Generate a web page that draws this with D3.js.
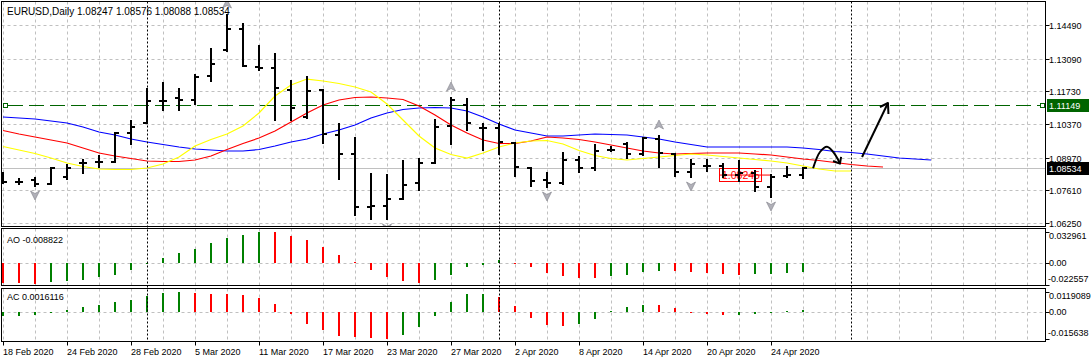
<!DOCTYPE html>
<html>
<head>
<meta charset="utf-8">
<script src="https://cdn.jsdelivr.net/npm/d3@7"></script>
<style>
body { margin: 0; background: #fff; }
text { font-family: "Liberation Sans", Arial, sans-serif; }
</style>
</head>
<body>
<div id="chart"></div>
<script>
// data
var symbol = 'EURUSD,Daily';
var dates = ['2020-02-18','2020-02-19','2020-02-20','2020-02-21','2020-02-24','2020-02-25','2020-02-26','2020-02-27','2020-02-28',
  '2020-03-02','2020-03-03','2020-03-04','2020-03-05','2020-03-06','2020-03-09','2020-03-10','2020-03-11','2020-03-12','2020-03-13',
  '2020-03-16','2020-03-17','2020-03-18','2020-03-19','2020-03-20','2020-03-23','2020-03-24','2020-03-25','2020-03-26','2020-03-27',
  '2020-03-30','2020-03-31','2020-04-01','2020-04-02','2020-04-03','2020-04-06','2020-04-07','2020-04-08','2020-04-09','2020-04-10',
  '2020-04-13','2020-04-14','2020-04-15','2020-04-16','2020-04-17','2020-04-20','2020-04-21','2020-04-22','2020-04-23','2020-04-24',
  '2020-04-27','2020-04-28'];
var open  = [1.08039,1.07956,1.08039,1.07872,1.08164,1.08740,1.08788,1.08788,1.09994,1.10410,1.11325,1.11450,1.11367,1.12365,1.13447,1.14320,1.12739,1.12698,1.11783,1.10660,1.11783,1.09911,1.09120,1.06916,1.06957,1.07248,1.07914,1.08746,1.10285,1.11159,1.10202,1.10202,1.09578,1.08538,1.08039,1.07914,1.08871,1.08538,1.09287,1.09536,1.09120,1.09744,1.09120,1.08372,1.08621,1.08621,1.08247,1.08330,1.07748,1.08220,1.08247];
var high  = [1.08372,1.08122,1.08164,1.08580,1.08704,1.08910,1.09079,1.10036,1.10535,1.11866,1.12116,1.11866,1.12448,1.13530,1.14944,1.14570,1.13655,1.13320,1.12199,1.12365,1.11824,1.10410,1.09828,1.08330,1.08288,1.08871,1.08954,1.10576,1.11492,1.11450,1.10410,1.10410,1.09620,1.08580,1.08372,1.09204,1.09037,1.09536,1.09453,1.09620,1.09828,1.09911,1.09162,1.08912,1.08912,1.08746,1.08871,1.08455,1.08288,1.08621,1.08576];
var low   = [1.07872,1.07831,1.07748,1.07831,1.08039,1.08288,1.08538,1.08746,1.09495,1.10368,1.10909,1.10909,1.11159,1.12116,1.13364,1.12739,1.12573,1.10493,1.10493,1.10576,1.09536,1.08039,1.06541,1.06375,1.06375,1.07207,1.07581,1.08704,1.09495,1.10077,1.09245,1.09079,1.08164,1.07748,1.07706,1.07831,1.08330,1.08413,1.09204,1.08912,1.09037,1.08538,1.08164,1.08122,1.08372,1.08122,1.07956,1.07540,1.07290,1.08122,1.08088];
var close = [1.07956,1.07960,1.07872,1.08538,1.08538,1.08760,1.08790,1.09994,1.10244,1.11325,1.11310,1.11367,1.12324,1.12864,1.14320,1.12781,1.12698,1.11866,1.11034,1.11741,1.09952,1.09120,1.06916,1.06957,1.07248,1.07831,1.08746,1.10244,1.11367,1.10410,1.10202,1.09620,1.08580,1.07997,1.07914,1.08871,1.08538,1.09245,1.09287,1.09120,1.09786,1.09162,1.08372,1.08704,1.08621,1.08247,1.08330,1.07748,1.08164,1.08247,1.08534];

// alligator lines (blue jaw, red teeth, yellow lips), values per bar incl. shifted future bars
var jaw = [1.10660,1.10618,1.10577,1.10493,1.10410,1.10244,1.10036,1.09911,1.09745,1.09620,1.09516,1.09412,1.09328,1.09287,1.09245,1.09245,1.09308,1.09453,1.09620,1.09745,1.09952,1.10119,1.10327,1.10618,1.10826,1.10972,1.11034,1.11055,1.11034,1.10909,1.10660,1.10368,1.10119,1.09994,1.09869,1.09869,1.09911,1.09952,1.09932,1.09911,1.09828,1.09745,1.09620,1.09516,1.09412,1.09412,1.09412,1.09412,1.09412,1.09412,1.09370,1.09308,1.09224,1.09183,1.09120,1.09037,1.08954,1.08912,1.08871];
var teeth = [1.10098,1.09952,1.09828,1.09703,1.09578,1.09370,1.09162,1.09037,1.08933,1.08829,1.08808,1.08808,1.08871,1.09037,1.09308,1.09557,1.09786,1.10077,1.10452,1.10826,1.11159,1.11367,1.11471,1.11492,1.11450,1.11388,1.11117,1.10743,1.10327,1.09994,1.09703,1.09557,1.09557,1.09661,1.09828,1.09786,1.09724,1.09620,1.09495,1.09370,1.09245,1.09162,1.09120,1.09141,1.09162,1.09162,1.09162,1.09120,1.09079,1.08996,1.08912,1.08850,1.08767,1.08684,1.08621,1.08580];
var lips  = [1.09432,1.09287,1.09141,1.08954,1.08746,1.08600,1.08496,1.08476,1.08476,1.08538,1.08704,1.08996,1.09453,1.09724,1.09952,1.10285,1.10826,1.11533,1.11991,1.12240,1.12157,1.12053,1.11908,1.11700,1.11200,1.10535,1.09869,1.09370,1.09100,1.08954,1.09162,1.09412,1.09578,1.09661,1.09682,1.09536,1.09266,1.09058,1.08933,1.08871,1.08933,1.08996,1.09058,1.09120,1.09079,1.09016,1.08954,1.08892,1.08829,1.08746,1.08621,1.08496,1.08413,1.08413];

var ao = [-0.0202,-0.0206,-0.0213,-0.0196,-0.0185,-0.0175,-0.0144,-0.0117,-0.0075,-0.0012,0.0058,0.0110,0.0151,0.0213,0.0264,0.0295,0.032961,0.0325,0.0285,0.0237,0.0172,0.0089,0.0017,-0.0065,-0.0144,-0.0185,-0.0209,-0.0175,-0.0117,-0.0041,-0.0014,0.0031,-0.0007,-0.0041,-0.0106,-0.0134,-0.0151,-0.0158,-0.0134,-0.0117,-0.0093,-0.0082,-0.0085,-0.0093,-0.0106,-0.0113,-0.0117,-0.0115,-0.0112,-0.0102,-0.008822];
var ac = [-0.0021,-0.0019,-0.0015,-0.0004,0.0013,0.0031,0.0042,0.0060,0.0071,0.0094,0.0111,0.0119089,0.0111,0.0110,0.0109,0.0100,0.0083,0.0048,-0.0008,-0.0067,-0.0102,-0.0136,-0.0146,-0.0148,-0.015638,-0.0134,-0.0088,-0.0019,0.0060,0.0106,0.0107,0.0090,0.0036,-0.0031,-0.0077,-0.0083,-0.0069,-0.0042,0.0008,0.0031,0.0042,0.0041,0.0027,-0.0003,-0.0008,-0.0015,-0.0014,-0.0008,-0.0002,0.0010,0.0016116];

var priceTicks = [1.14490, 1.13090, 1.11730, 1.10370, 1.08970, 1.07610, 1.06250];
var aoTicks = [0.032961, 0, -0.022557];
var acTicks = [0.0119089, 0, -0.015638];
var fractalUp = [14, 28, 41];
var fractalDown = [2, 24, 34, 43, 48];
var monthStarts = [9, 31, 53];
var hLinePrice = 1.11149;
var bidPrice = 1.08534;
var trendPrice = 1.08245;
var trendBars = [44.75, 47.94];
// hand drawn arrows, [bar, price]
var curveArrow = [[50.63,1.08526],[51.06,1.09204],[51.5,1.09424],[51.94,1.09162],[52.31,1.08734]];
var curveHead = [[51.88,1.08830],[52.31,1.08720],[52.38,1.09000]];
var straightArrow = [[53.69,1.08996],[55.31,1.11242]];
var straightHead = [[54.81,1.11076],[55.31,1.11242],[55.34,1.10785]];

// layout
var W = 1091, H = 362;
var left = 1.5, right = 1045.5;
var mainTop = 1.5, mainBot = 226.5;
var aoTop = 228.5, aoBot = 285.5;
var acTop = 288.5, acBot = 341.5;

var x = d3.scaleLinear().domain([0, 1]).range([3, 19]);
var y = d3.scaleLinear().domain([1.06125, 1.15445]).range([226, 2]);
var yAO = d3.scaleLinear().domain([-0.022557, 0.032961]).range([285, 231.5]);
var yAC = d3.scaleLinear().domain([-0.015638, 0.0119089]).range([339, 292]);
var fmt5 = d3.format('.5f');
var parse = d3.timeParse('%Y-%m-%d');
var fmtDate = d3.timeFormat('%-d %b %Y');

var svg = d3.select('#chart').append('svg')
    .attr('width', W)
    .attr('height', H);

svg.append('rect').attr('width', W).attr('height', H).attr('fill', '#fff');

var defs = svg.append('defs');
function clip(id, y0, y1) {
    defs.append('clipPath').attr('id', id)
        .append('rect').attr('x', left).attr('y', y0).attr('width', right - left).attr('height', y1 - y0);
}
clip('cMain', mainTop, mainBot);
clip('cAO', aoTop, aoBot);
clip('cAC', acTop, acBot);

var gMain = svg.append('g').attr('clip-path', 'url(#cMain)');
var gAO = svg.append('g').attr('clip-path', 'url(#cAO)');
var gAC = svg.append('g').attr('clip-path', 'url(#cAC)');

//    grid
var gridX = d3.range(0, 66, 2);
[[gMain, mainTop, mainBot], [gAO, aoTop, aoBot], [gAC, acTop, acBot]].forEach(function(p) {
    p[0].selectAll('.vgrid').data(gridX).enter().append('line')
        .attr('x1', function(d) { return x(d) + 0.5; })
        .attr('x2', function(d) { return x(d) + 0.5; })
        .attr('y1', p[1]).attr('y2', p[2])
        .attr('stroke', '#c0c0c0')
        .attr('stroke-dasharray', '3,3');
});
gMain.selectAll('.hgrid').data(priceTicks).enter().append('line')
    .attr('x1', left).attr('x2', right)
    .attr('y1', function(d) { return Math.round(y(d)) + 0.5; })
    .attr('y2', function(d) { return Math.round(y(d)) + 0.5; })
    .attr('stroke', '#c0c0c0')
    .attr('stroke-dasharray', '3,3');
gAO.append('line').attr('x1', left).attr('x2', right)
    .attr('y1', Math.round(yAO(0)) + 0.5).attr('y2', Math.round(yAO(0)) + 0.5)
    .attr('stroke', '#c0c0c0').attr('stroke-dasharray', '3,3');
gAC.append('line').attr('x1', left).attr('x2', right)
    .attr('y1', Math.round(yAC(0)) + 0.5).attr('y2', Math.round(yAC(0)) + 0.5)
    .attr('stroke', '#c0c0c0').attr('stroke-dasharray', '3,3');

//    period separators
svg.selectAll('.sep').data(monthStarts).enter().append('line')
    .attr('x1', function(d) { return x(d) + 0.5; })
    .attr('x2', function(d) { return x(d) + 0.5; })
    .attr('y1', mainTop).attr('y2', acBot)
    .attr('stroke', '#000')
    .attr('stroke-dasharray', '2,2');

//    bid line and horizontal line
gMain.append('line')
    .attr('x1', left).attr('x2', right)
    .attr('y1', Math.round(y(bidPrice)) + 0.5).attr('y2', Math.round(y(bidPrice)) + 0.5)
    .attr('stroke', '#c0c0c0');
var hy = Math.round(y(hLinePrice)) + 0.5;
gMain.append('line')
    .attr('x1', 8).attr('x2', 1040)
    .attr('y1', hy).attr('y2', hy)
    .attr('stroke', '#006400')
    .attr('stroke-dasharray', '15,6');
[5.5, 1042.5].forEach(function(cx) {
    gMain.append('rect')
        .attr('x', cx - 2).attr('y', hy - 2)
        .attr('width', 4).attr('height', 4)
        .attr('fill', '#fff').attr('stroke', '#006400');
});

//    alligator
var line = d3.line()
    .x(function(d, i) { return x(i); })
    .y(function(d) { return y(d); });
[[jaw, '#0000ff'], [teeth, '#ff0000'], [lips, '#ffff00']].forEach(function(s) {
    gMain.append('path')
        .attr('d', line(s[0]))
        .attr('fill', 'none')
        .attr('stroke', s[1])
        .attr('stroke-width', 1.2);
});

//    trend line with price label
var ty = y(trendPrice);
gMain.append('line')
    .attr('x1', x(trendBars[0])).attr('x2', x(trendBars[1]))
    .attr('y1', ty).attr('y2', ty)
    .attr('stroke', '#ff0000');
gMain.append('rect')
    .attr('x', x(trendBars[0]) + 0.5).attr('y', Math.round(ty) - 6.5)
    .attr('width', 42).attr('height', 13)
    .attr('fill', 'none').attr('stroke', '#ff0000');
gMain.append('text')
    .attr('x', x(trendBars[0]) + 3).attr('y', ty + 4)
    .attr('fill', '#ff0000')
    .style('font-size', '10.5px')
    .text(fmt5(trendPrice));

//    bars
var bars = gMain.selectAll('.bar').data(d3.range(open.length)).enter().append('g')
    .attr('class', 'bar')
    .attr('shape-rendering', 'crispEdges');
bars.append('line')
    .attr('x1', function(i) { return x(i); }).attr('x2', function(i) { return x(i); })
    .attr('y1', function(i) { return y(high[i]); }).attr('y2', function(i) { return y(low[i]); })
    .attr('stroke', '#000').attr('stroke-width', 2);
bars.append('line')
    .attr('x1', function(i) { return x(i) - 4; }).attr('x2', function(i) { return x(i); })
    .attr('y1', function(i) { return y(open[i]); }).attr('y2', function(i) { return y(open[i]); })
    .attr('stroke', '#000').attr('stroke-width', 2);
bars.append('line')
    .attr('x1', function(i) { return x(i); }).attr('x2', function(i) { return x(i) + 4; })
    .attr('y1', function(i) { return y(close[i]); }).attr('y2', function(i) { return y(close[i]); })
    .attr('stroke', '#000').attr('stroke-width', 2);

//    fractals
gMain.selectAll('.fup').data(fractalUp).enter().append('path')
    .attr('transform', function(i) { return 'translate(' + x(i) + ',' + (y(high[i]) - 10) + ')'; })
    .attr('d', 'M0,-5L4.5,4L0,1.5L-4.5,4Z')
    .attr('fill', '#b0b0b8').attr('stroke', '#808088').attr('stroke-width', 0.6);
gMain.selectAll('.fdn').data(fractalDown).enter().append('path')
    .attr('transform', function(i) { return 'translate(' + x(i) + ',' + (y(low[i]) + 8) + ')'; })
    .attr('d', 'M0,5L4.5,-4L0,-1.5L-4.5,-4Z')
    .attr('fill', '#b0b0b8').attr('stroke', '#808088').attr('stroke-width', 0.6);

//    hand drawn arrows
var pline = d3.line()
    .x(function(d) { return x(d[0]); })
    .y(function(d) { return y(d[1]); });
gMain.append('path').attr('d', pline.curve(d3.curveCatmullRom)(curveArrow))
    .attr('fill', 'none').attr('stroke', '#000').attr('stroke-width', 2);
pline.curve(d3.curveLinear);
[curveHead, straightArrow, straightHead].forEach(function(p) {
    gMain.append('path').attr('d', pline(p))
        .attr('fill', 'none').attr('stroke', '#000').attr('stroke-width', 2)
        .attr('stroke-linejoin', 'round');
});

//    AO / AC histograms
function hist(g, vals, ys) {
    g.selectAll('.h').data(vals).enter().append('rect')
        .attr('x', function(d, i) { return x(i) - 1; })
        .attr('width', 2)
        .attr('y', function(d) { return Math.min(ys(d), ys(0)); })
        .attr('height', function(d) { return Math.max(0.8, Math.abs(ys(d) - ys(0))); })
        .attr('fill', function(d, i) { return (i > 0 && d > vals[i - 1]) ? '#008000' : (i == 0 && g === gAC ? '#008000' : '#ff0000'); })
        .attr('shape-rendering', 'crispEdges');
}
hist(gAO, ao, yAO);
hist(gAC, ac, yAC);

//    frames
[[mainTop, mainBot], [aoTop, aoBot], [acTop, acBot]].forEach(function(p) {
    svg.append('rect')
        .attr('x', left).attr('y', p[0])
        .attr('width', right - left).attr('height', p[1] - p[0])
        .attr('fill', 'none').attr('stroke', '#000');
});

//    price axis
var axisG = svg.append('g').style('font-size', '9px');
axisG.selectAll('.pt').data(priceTicks).enter().append('g').each(function(d) {
    var yy = Math.round(y(d)) + 0.5;
    d3.select(this).append('line').attr('x1', right).attr('x2', right + 4)
        .attr('y1', yy).attr('y2', yy).attr('stroke', '#000');
    d3.select(this).append('text').attr('x', 1049).attr('y', yy + 3.3).text(fmt5(d));
});
function subAxis(ticks, ys) {
    ticks.forEach(function(d, k) {
        var yy = ys(d);
        var off = k == 0 ? 7 : (k == 1 ? 3 : -3);
        axisG.append('line').attr('x1', right).attr('x2', right + 4)
            .attr('y1', Math.round(yy) + 0.5).attr('y2', Math.round(yy) + 0.5).attr('stroke', '#000');
        axisG.append('text').attr('x', d < 0 ? 1048 : 1049).attr('y', yy + off)
            .text(d == 0 ? '0.00' : String(d));
    });
}
subAxis(aoTicks, yAO);
subAxis(acTicks, yAC);

//    price boxes on the axis
[[hLinePrice, '#006400'], [bidPrice, '#000']].forEach(function(b) {
    var yy = Math.round(y(b[0]));
    axisG.append('rect').attr('x', 1047).attr('y', yy - 6)
        .attr('width', 42).attr('height', 13).attr('fill', b[1]);
    axisG.append('text').attr('x', 1049).attr('y', yy + 3.5)
        .attr('fill', '#fff').text(fmt5(b[0]));
});

//    time axis
var labelIdx = d3.range(0, dates.length, 4);
axisG.selectAll('.tt').data(labelIdx).enter().append('g').each(function(i) {
    var xx = x(i) + 0.5;
    d3.select(this).append('line').attr('x1', xx).attr('x2', xx)
        .attr('y1', acBot).attr('y2', acBot + 4).attr('stroke', '#000');
    d3.select(this).append('text').attr('x', x(i)).attr('y', 354.5)
        .text(fmtDate(parse(dates[i])));
});

//    titles
var last = open.length - 1;
svg.append('text').attr('x', 7).attr('y', 15).style('font-size', '10px')
    .text(symbol);
svg.append('text').attr('x', 77).attr('y', 15).style('font-size', '10px')
    .text([open[last], high[last], low[last], close[last]].map(fmt5).join(' '));
svg.append('text').attr('x', 7).attr('y', 242.5).style('font-size', '9px')
    .text('AO ' + ao[last]);
svg.append('text').attr('x', 7).attr('y', 300).style('font-size', '9px')
    .text('AC ' + ac[last]);
</script>
</body>
</html>
